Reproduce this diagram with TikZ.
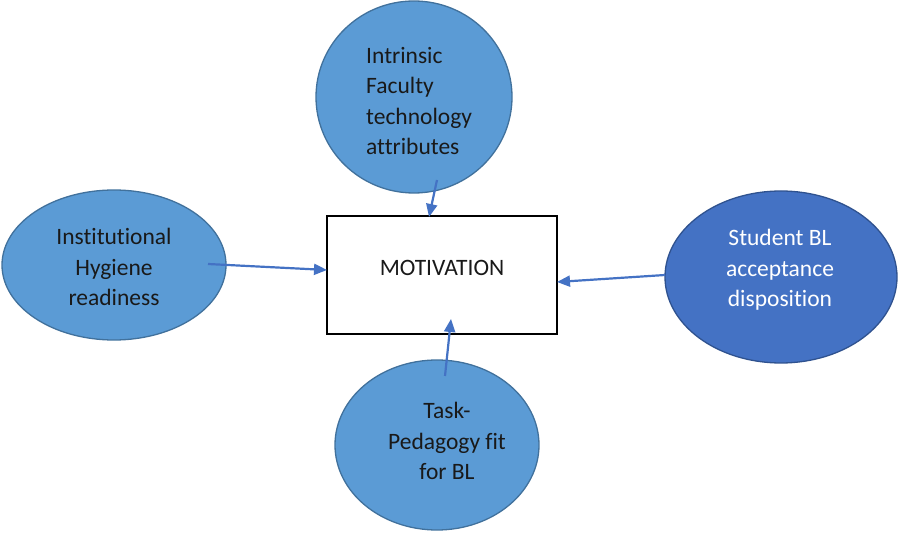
\documentclass[tikz,border=0pt]{standalone}
\usepackage{fontspec}
\setmainfont{Carlito}[Ligatures=CommonOff]
\usetikzlibrary{shapes.geometric,arrows.meta}
\definecolor{lightfill}{HTML}{5B9BD5}
\definecolor{lightedge}{HTML}{41719C}
\definecolor{darkfill}{HTML}{4472C4}
\definecolor{darkedge}{HTML}{2F528F}
\definecolor{arrowblue}{HTML}{4472C4}
\tikzset{
  bubble/.style={ellipse, draw=lightedge, fill=lightfill, line width=1.3pt, inner sep=0pt},
  darkbubble/.style={ellipse, draw=darkedge, fill=darkfill, line width=1.3pt, inner sep=0pt},
  label text/.style={font=\fontsize{23.5}{30.5}\selectfont, text=black!90, inner sep=0pt},
  conn/.style={draw=arrowblue, line width=2.2pt, -{Triangle[length=13pt,width=11pt]}},
  motivbox/.style={draw=black, line width=1.8pt, fill=white, minimum width=230pt, minimum height=118pt, inner sep=0pt}
}
\begin{document}
\begin{tikzpicture}[x=1pt,y=-1pt]
\useasboundingbox (0,0) rectangle (900,534);
% shapes
\node[bubble, minimum width=196pt, minimum height=192pt] (top) at (414,97) {};
\node[bubble, minimum width=224pt, minimum height=150pt] (left) at (114,265) {};
\node[darkbubble, minimum width=232pt, minimum height=172pt] (right) at (781,277) {};
\node[bubble, minimum width=204pt, minimum height=170pt] (bottom) at (437,445) {};
\node[motivbox] (box) at (442,275) {};
% texts
\node[label text, align=left, anchor=west] (toptext) at (366,101) {Intrinsic\\Faculty\\technology\\attributes};
\node[label text, align=center] (lefttext) at (114,267) {Institutional\\Hygiene\\readiness};
\node[label text, align=center, text=white] (righttext) at (780,270) {Student BL\\acceptance\\disposition};
\node[label text, align=center] (bottomtext) at (447,441) {Task-\\Pedagogy fit\\for BL};
\node[label text] (boxtext) at (442,268) {MOTIVATION};
% connector end points
\coordinate (topstart) at (437,180);
\coordinate (topend) at (429,217);
\coordinate (leftstart) at (208,264);
\coordinate (leftend) at (327,270);
\coordinate (rightstart) at (665,275);
\coordinate (rightend) at (557,282);
\coordinate (botstart) at (445,376);
\coordinate (botend) at (451,319);
\draw[conn] (topstart) -- (topend);
\draw[conn] (leftstart) -- (leftend);
\draw[conn] (rightstart) -- (rightend);
\draw[conn] (botstart) -- (botend);
\end{tikzpicture}
\end{document}
